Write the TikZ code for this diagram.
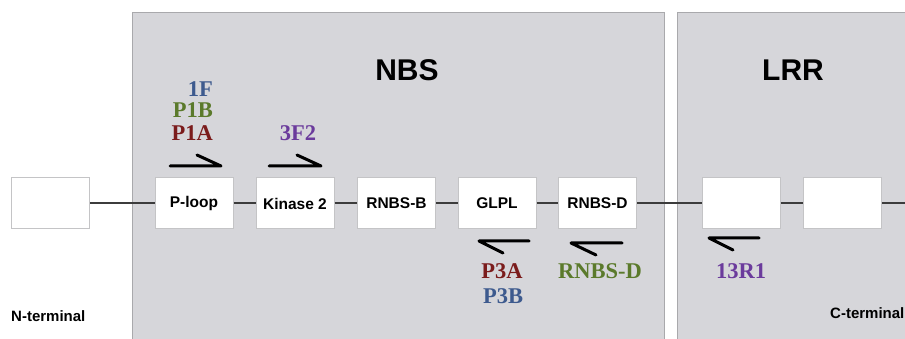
\documentclass[tikz,border=0pt]{standalone}
\usepackage{fontspec}
\setmainfont{Liberation Serif}
\setsansfont{Liberation Sans}
\definecolor{panelgrey}{HTML}{D6D6DA}
\definecolor{paneledge}{HTML}{A9A9AC}
\definecolor{boxedge}{HTML}{C4C4C6}
\definecolor{chainline}{HTML}{3C3C3C}
\definecolor{primerblue}{HTML}{3D5A8E}
\definecolor{primergreen}{HTML}{5B7A2B}
\definecolor{primerred}{HTML}{7B1C1C}
\definecolor{primerpurple}{HTML}{6B3B9C}
\tikzset{
  panelbox/.style={fill=panelgrey, draw=paneledge, line width=1pt},
  motif/.style={draw=boxedge, fill=white, line width=1pt, minimum width=78pt,
    minimum height=51pt, inner sep=0pt, font=\sffamily\bfseries\fontsize{15.5}{16}\selectfont},
  paneltitle/.style={font=\sffamily\bfseries\fontsize{30}{30}\selectfont},
  terminal/.style={font=\sffamily\bfseries\fontsize{15}{15}\selectfont, anchor=west, inner sep=0pt},
  primer/.style={font=\bfseries\fontsize{22.5}{22.5}\selectfont, inner sep=0pt},
  halfarrow/.style={line width=3pt, line join=round, line cap=round}
}
\begin{document}
\begin{tikzpicture}[x=1pt, y=-1pt]
            \useasboundingbox (0,0) rectangle (905,339);
            \clip (0,0) rectangle (905,339);
            % domains
            \draw[panelbox] (132,13) rectangle (664,350);
            \draw[panelbox] (677,13) rectangle (915,350);
            \node[paneltitle] (nbs) at (407,70) {NBS};
            \node[paneltitle] (lrr) at (793,70) {LRR};
            \node[terminal] (nterm) at (11,316) {N-terminal};
            \node[terminal] (cterm) at (830,313) {C-terminal};
            % motifs
            \node[motif] (nbox) at (50.5,203.5) {};
            \node[motif] (ploop) at (194,203.5) {P-loop};
            \node[motif] (kin2) at (295,203.5) {Kinase 2};
            \node[motif] (rnbsb) at (396.5,203.5) {RNBS-B};
            \node[motif] (glpl) at (497,203.5) {GLPL};
            \node[motif] (rnbsd) at (597.5,203.5) {RNBS-D};
            \node[motif] (lrra) at (741,203.5) {};
            \node[motif] (lrrb) at (842.5,203.5) {};
            \coordinate (cend) at (910,203.5);
            \draw[chainline, line width=2pt] (nbox) -- (ploop) -- (kin2) -- (rnbsb) -- (glpl)
              -- (rnbsd) -- (lrra) -- (lrrb) -- (cend);
            % primers
            \draw[halfarrow] (170,166) -- (221,166) -- (197,155);
            \draw[halfarrow] (269,166) -- (321,166) -- (297,155);
            \draw[halfarrow] (529,241) -- (479,241) -- (503,253);
            \draw[halfarrow] (622,243) -- (571,243) -- (596,255);
            \draw[halfarrow] (759,238) -- (709,238) -- (733,250);
            \node[primer, primerblue, anchor=east] (f1) at (213,89) {1F};
            \node[primer, primergreen, anchor=east] (p1b) at (213,110.5) {P1B};
            \node[primer, primerred, anchor=east] (p1a) at (213,133.5) {P1A};
            \node[primer, primerpurple] (f32) at (298,133) {3F2};
            \node[primer, primerred] (p3a) at (502,271) {P3A};
            \node[primer, primerblue] (p3b) at (503,296) {P3B};
            \node[primer, primergreen] (rnbs) at (600,271) {RNBS-D};
            \node[primer, primerpurple] (r131) at (741,271) {13R1};
        \end{tikzpicture}
\end{document}
